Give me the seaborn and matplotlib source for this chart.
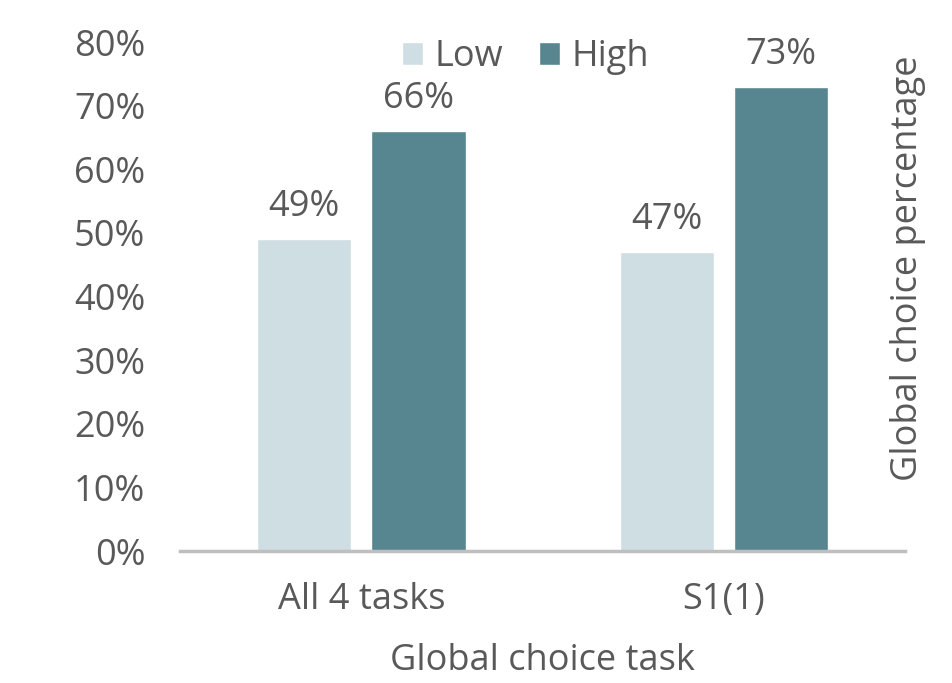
import pandas as pd
import seaborn as sns
import matplotlib.pyplot as plt
from matplotlib.ticker import PercentFormatter

# 資料
tasks = ['All 4 tasks', 'S1(1)']
levels = ['Low', 'High']
low_vals = [0.49, 0.47]
high_vals = [0.66, 0.73]

df = pd.DataFrame({
    'task': tasks * 2,
    'level': ['Low'] * 2 + ['High'] * 2,
    'value': low_vals + high_vals,
})

sns.set_style('white')
plt.rcParams['font.family'] = ['Open Sans', 'DejaVu Sans']
fs = 26
text_color = '#595959'

fig = plt.figure(figsize=(9.52, 6.83), dpi=100)
ax = fig.add_axes([0.189, 0.193, 0.762, 0.7455])

palette = {'Low': '#CFDEE3', 'High': '#588690'}
sns.barplot(data=df, x='task', y='value', hue='level', hue_order=levels,
            palette=palette, width=0.63, gap=0.175, ax=ax, saturation=1)

# 資料標籤
for container in ax.containers:
    ax.bar_label(container, labels=[f'{v.get_height():.0%}' for v in container],
                 padding=10, fontsize=fs, color=text_color)

ax.set_ylim(0, 0.8)
ax.set_xlim(-0.5, 1.5)
ax.yaxis.set_major_formatter(PercentFormatter(1.0, decimals=0))
ax.set_yticks([i / 10 for i in range(9)])
ax.tick_params(axis='both', length=0, labelsize=fs, labelcolor=text_color)
ax.tick_params(axis='y', pad=25)
ax.tick_params(axis='x', pad=22)

for side in ['top', 'right', 'left']:
    ax.spines[side].set_visible(False)
ax.spines['bottom'].set_color('#BFBFBF')
ax.spines['bottom'].set_linewidth(2.5)

ax.set_xlabel('Global choice task', fontsize=fs, color=text_color, labelpad=18)
ax.set_ylabel('')
fig.text(0.954, 0.607, 'Global choice percentage', rotation=90, ha='center', va='center',
         fontsize=fs, color=text_color)

leg = ax.legend(loc='upper center', bbox_to_anchor=(0.476, 1.07), ncol=2, frameon=False,
                fontsize=fs, handlelength=0.6, handleheight=0.6, handletextpad=0.3,
                columnspacing=1.0)
for t in leg.get_texts():
    t.set_color(text_color)

fig.savefig('out.png', dpi=100)
